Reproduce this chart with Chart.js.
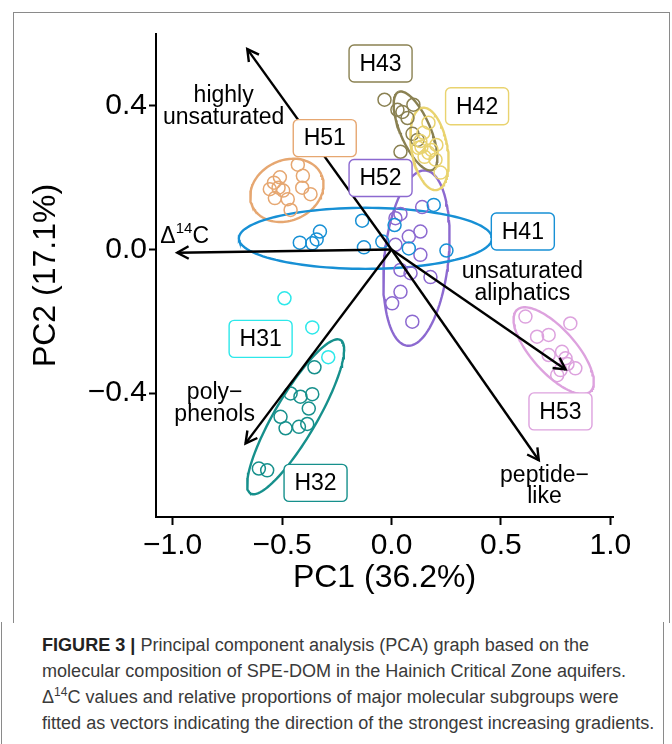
<!DOCTYPE html>
<html lang="en">
<head>
<meta charset="UTF-8">
<title>PCA - SPE-DOM Hainich</title>
<script src="https://cdn.jsdelivr.net/npm/chart.js"></script>
<style>
  body { margin: 0; background: #fff; }
  #wrap { position: relative; width: 672px; height: 744px; overflow: hidden; }
  #pca { position: absolute; left: 0; top: 0; }
  .frame { position: absolute; left: 13px; top: 12px; width: 655px; height: 610px; border: 1px solid #8a8a8a; border-bottom: none; }
  .capframe { position: absolute; left: 1px; top: 622px; width: 661px; height: 130px; border-left: 1px solid #8a8a8a; border-right: 1px solid #8a8a8a; }
  #caption { position: absolute; left: 42px; top: 632px; font-family: "Liberation Sans", Arial, sans-serif; font-size: 18px; line-height: 26px; color: #3a3a3a; }
  #caption span { display: block; white-space: nowrap; transform-origin: 0 50%; }
  #caption b { color: #222; }
</style>
</head>
<body>
<div id="wrap">
  <div class="frame"></div>
  <div class="capframe"></div>
  <canvas id="pca" width="672" height="600"></canvas>
  <div id="caption">
    <span><b>FIGURE 3 |</b> Principal component analysis (PCA) graph based on the</span>
    <span>molecular composition of SPE-DOM in the Hainich Critical Zone aquifers.</span>
    <span>&Delta;<sup style="font-size:12px;line-height:0">14</sup>C values and relative proportions of major molecular subgroups were</span>
    <span>fitted as vectors indicating the direction of the strongest increasing gradients.</span>
  </div>
</div>
<script>
// sample scores per group (PC1, PC2)
const groups = ['H31', 'H32', 'H41', 'H42', 'H43', 'H51', 'H52', 'H53'];
const h31PC1 = [-0.489, -0.362, -0.289];
const h31PC2 = [-0.136, -0.217, -0.300];
const h32PC1 = [-0.352, -0.461, -0.416, -0.362, -0.378, -0.507, -0.484, -0.423, -0.385, -0.606, -0.568];
const h32PC2 = [-0.328, -0.401, -0.410, -0.403, -0.443, -0.466, -0.498, -0.494, -0.486, -0.610, -0.615];
const h41PC1 = [-0.419, -0.362, -0.342, -0.327, -0.134, -0.126, -0.042, 0.014, 0.079, 0.251, 0.193];
const h41PC2 = [0.019, 0.017, 0.028, 0.050, 0.080, 0.006, 0.022, 0.068, 0.003, -0.003, 0.124];
const h42PC1 = [0.169, 0.146, 0.132, 0.137, 0.169, 0.201, 0.224, 0.183, 0.151, 0.123, 0.205];
const h42PC2 = [0.353, 0.325, 0.302, 0.286, 0.269, 0.250, 0.214, 0.277, 0.258, 0.283, 0.291];
const h43PC1 = [-0.032, 0.100, 0.050, 0.073, 0.096, 0.119, 0.041, 0.027];
const h43PC2 = [0.417, 0.403, 0.383, 0.366, 0.322, 0.305, 0.272, 0.389];
const h51PC1 = [-0.428, -0.405, -0.408, -0.370, -0.510, -0.537, -0.556, -0.533, -0.495, -0.474, -0.461, -0.516];
const h51PC2 = [0.236, 0.205, 0.172, 0.154, 0.201, 0.186, 0.168, 0.143, 0.164, 0.140, 0.110, 0.172];
const h52PC1 = [0.140, 0.018, 0.041, 0.079, 0.132, 0.018, 0.132, 0.041, 0.087, 0.178, 0.041, 0.003, 0.095];
const h52PC2 = [0.118, 0.087, 0.099, 0.036, 0.050, 0.013, -0.015, -0.057, -0.066, -0.077, -0.118, -0.150, -0.201];
const h53PC1 = [0.612, 0.817, 0.665, 0.718, 0.718, 0.779, 0.795, 0.804, 0.840, 0.757, 0.772];
const h53PC2 = [-0.187, -0.206, -0.243, -0.238, -0.294, -0.285, -0.303, -0.319, -0.331, -0.350, -0.336];
const groupPC1 = [h31PC1, h32PC1, h41PC1, h42PC1, h43PC1, h51PC1, h52PC1, h53PC1];
const groupPC2 = [h31PC2, h32PC2, h41PC2, h42PC2, h43PC2, h51PC2, h52PC2, h53PC2];

// group label anchors (data units)
const groupLabelPC1 = [-0.598, -0.347, 0.600, 0.391, -0.050, -0.305, -0.050, 0.772];
const groupLabelPC2 = [-0.249, -0.650, 0.050, 0.399, 0.518, 0.310, 0.199, -0.451];

// confidence ellipses: centre + two conjugate half-axes (data units)
const ellipseGroups = ['H32', 'H41', 'H42', 'H43', 'H51', 'H52', 'H53'];
const ellipseCX = [-0.438, -0.119, 0.1735, 0.1096, -0.478, 0.114, 0.741];
const ellipseCY = [-0.466, 0.031, 0.280, 0.330, 0.1645, -0.024, -0.282];
const ellipseU = [[0.2055, 0.2138], [0.5785, 0], [-0.0331, 0.1145], [-0.0777, 0.1086], [0.157, 0.0448], [0.042, 0.244], [-0.1674, 0.1139]];
const ellipseV = [[-0.0827, 0.0296], [0, 0.085], [-0.0810, -0.0087], [-0.0628, -0.0167], [-0.0579, 0.0758], [-0.1453, 0.0093], [-0.0748, -0.0409]];

// fitted vectors
const vectorNames = ['highly unsaturated', 'Δ14C', 'polyphenols', 'unsaturated aliphatics', 'peptide-like'];
const vectorPC1 = [-0.659, -0.979, -0.667, 0.795, 0.673];
const vectorPC2 = [0.558, -0.009, -0.540, -0.334, -0.587];
const vectorLabelLines = [['highly', 'unsaturated'], ['Δ14C'], ['poly\u2212', 'phenols'], ['unsaturated', 'aliphatics'], ['peptide\u2212', 'like']];
const vectorLabelPC1 = [-0.767, -0.945, -0.808, 0.598, 0.699];
const vectorLabelPC2 = [0.397, 0.035, -0.429, -0.093, -0.659];

const xTicks = [-1, -0.5, 0, 0.5, 1];
const yTicks = [-0.4, 0, 0.4];

const colors = {
    H31: '#2de8ea', H32: '#16908c', H41: '#1790d5', H42: '#e9d36f',
    H43: '#8a8152', H51: '#e6a771', H52: '#8c69d0', H53: '#dda2de'
};
const FONT = '"Liberation Sans", Arial, sans-serif';
const LABEL_PX = 23;

const datasets = [];

// arrows (shafts)
vectorNames.forEach((name, i) => {
    datasets.push({
        type: 'line', label: name, order: 0,
        data: [{x: 0, y: 0}, {x: vectorPC1[i], y: vectorPC2[i]}],
        borderColor: '#000', borderWidth: 2.4, pointRadius: 0, fill: false
    });
});

// sample points
groups.forEach((g, i) => {
    datasets.push({
        label: g, order: 1,
        data: groupPC1[i].map((v, j) => ({x: v, y: groupPC2[i][j]})),
        borderColor: colors[g], backgroundColor: 'rgba(0,0,0,0)',
        pointRadius: 6.5, borderWidth: 1.5, pointHoverRadius: 6.5
    });
});

// ellipses
ellipseGroups.forEach((g, i) => {
    const pts = [];
    for (let k = 0; k <= 120; k++) {
        const t = k / 120 * Math.PI * 2;
        pts.push({
            x: ellipseCX[i] + ellipseU[i][0] * Math.cos(t) + ellipseV[i][0] * Math.sin(t),
            y: ellipseCY[i] + ellipseU[i][1] * Math.cos(t) + ellipseV[i][1] * Math.sin(t)
        });
    }
    datasets.push({
        type: 'line', label: g + ' ellipse', order: 2,
        data: pts, borderColor: colors[g], borderWidth: 2.4,
        pointRadius: 0, fill: false, tension: 0
    });
});

function drawDelta(ctx, cx, cy) {
    ctx.font = LABEL_PX + 'px ' + FONT;
    const wD = ctx.measureText('Δ').width, wC = ctx.measureText('C').width;
    ctx.font = '15px ' + FONT;
    const w14 = ctx.measureText('14').width;
    let x = cx - (wD + w14 + wC) / 2;
    ctx.textAlign = 'left';
    ctx.font = LABEL_PX + 'px ' + FONT;
    ctx.fillText('Δ', x, cy);
    x += wD;
    ctx.font = '15px ' + FONT;
    ctx.fillText('14', x, cy - 8);
    x += w14;
    ctx.font = LABEL_PX + 'px ' + FONT;
    ctx.fillText('C', x, cy);
}

const annotations = {
    id: 'annotations',
    afterDatasetsDraw(chart) {
        const {ctx, scales: {x, y}} = chart;
        ctx.save();
        // arrow heads
        const x0 = x.getPixelForValue(0), y0 = y.getPixelForValue(0);
        ctx.strokeStyle = '#000';
        ctx.lineWidth = 2.4;
        vectorNames.forEach((n, i) => {
            const tx = x.getPixelForValue(vectorPC1[i]), ty = y.getPixelForValue(vectorPC2[i]);
            const a = Math.atan2(ty - y0, tx - x0);
            ctx.beginPath();
            ctx.moveTo(tx - 13 * Math.cos(a - 0.5), ty - 13 * Math.sin(a - 0.5));
            ctx.lineTo(tx, ty);
            ctx.lineTo(tx - 13 * Math.cos(a + 0.5), ty - 13 * Math.sin(a + 0.5));
            ctx.stroke();
        });
        // vector labels
        ctx.fillStyle = '#000';
        ctx.textBaseline = 'middle';
        vectorLabelLines.forEach((lines, i) => {
            const cx = x.getPixelForValue(vectorLabelPC1[i]), cy = y.getPixelForValue(vectorLabelPC2[i]);
            const lh = 21.5;
            lines.forEach((t, j) => {
                const ly = cy + (j - (lines.length - 1) / 2) * lh;
                if (t === 'Δ14C') { drawDelta(ctx, cx, ly); return; }
                ctx.font = LABEL_PX + 'px ' + FONT;
                ctx.textAlign = 'center';
                ctx.fillText(t, cx, ly);
            });
        });
        // group label boxes
        ctx.font = LABEL_PX + 'px ' + FONT;
        groups.forEach((g, i) => {
            const cx = x.getPixelForValue(groupLabelPC1[i]), cy = y.getPixelForValue(groupLabelPC2[i]);
            const w = 63, h = 37;
            ctx.beginPath();
            ctx.roundRect(cx - w / 2, cy - h / 2, w, h, 5);
            ctx.fillStyle = '#fff';
            ctx.fill();
            ctx.lineWidth = 1.4;
            ctx.strokeStyle = colors[g];
            ctx.stroke();
            ctx.fillStyle = '#000';
            ctx.textAlign = 'center';
            ctx.fillText(g, cx, cy + 1);
        });
        ctx.restore();
    }
};

const fmt = v => (v < 0 ? '\u2212' : '') + Math.abs(v).toFixed(1);

new Chart(document.getElementById('pca'), {
    type: 'scatter',
    data: { datasets: datasets },
    options: {
        responsive: false,
        animation: false,
        layout: { padding: { top: 34, right: 59, left: 0, bottom: 0 } },
        plugins: { legend: { display: false }, tooltip: { enabled: false } },
        scales: {
            x: {
                type: 'linear', min: -1.076, max: 1.012,
                afterBuildTicks: s => { s.ticks = xTicks.map(v => ({value: v})); },
                afterFit: s => { s.height = 83; },
                grid: { display: true, drawOnChartArea: false, drawTicks: true, tickLength: 8, tickWidth: 2, tickColor: '#000' },
                border: { display: true, color: '#000', width: 2 },
                ticks: { color: '#000', font: { family: FONT, size: 30 }, padding: 3, callback: fmt, maxRotation: 0 },
                title: { display: true, text: 'PC1 (36.2%)', color: '#000', font: { family: FONT, size: 32 }, padding: { top: 0, bottom: 3 } }
            },
            y: {
                type: 'linear', min: -0.745, max: 0.6,
                afterBuildTicks: s => { s.ticks = yTicks.map(v => ({value: v})); },
                afterFit: s => { s.width = 156; },
                grid: { display: true, drawOnChartArea: false, drawTicks: true, tickLength: 7, tickWidth: 2, tickColor: '#000' },
                border: { display: true, color: '#000', width: 2 },
                ticks: { color: '#000', font: { family: FONT, size: 30 }, padding: 2, callback: fmt },
                title: { display: true, text: 'PC2 (17.1%)', color: '#000', font: { family: FONT, size: 32 }, padding: { top: 27, bottom: 0 } }
            }
        }
    },
    plugins: [annotations]
});

// squeeze the caption lines to the condensed width of the original
const capLines = document.querySelectorAll('#caption span');
const last = capLines[capLines.length - 1];
const k = 612 / last.scrollWidth;
capLines.forEach(s => { s.style.transform = 'scaleX(' + k + ')'; });
</script>
</body>
</html>
